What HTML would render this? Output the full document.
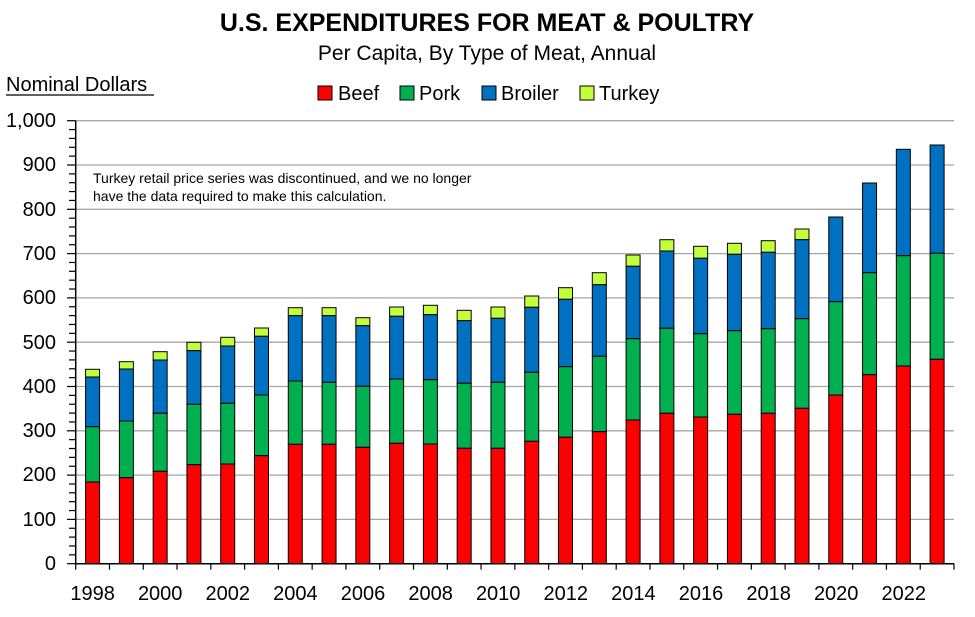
<!DOCTYPE html>
<html><head><meta charset="utf-8"><style>
body{margin:0;background:#fff;}
svg text{font-family:"Liberation Sans",sans-serif;fill:#000;}
</style></head><body>
<svg id="c" width="975" height="612" xmlns="http://www.w3.org/2000/svg">
<text x="487" y="31" text-anchor="middle" font-size="25" font-weight="bold">U.S. EXPENDITURES FOR MEAT &amp; POULTRY</text>
<text x="487" y="60" text-anchor="middle" font-size="21">Per Capita, By Type of Meat, Annual</text>
<text x="6" y="91" font-size="20">Nominal Dollars</text>
<line x1="6" y1="95" x2="154" y2="95" stroke="#000" stroke-width="1.3"/>
<rect x="318" y="86" width="14" height="14" fill="#f00" stroke="#000"/><text x="338" y="100" font-size="20">Beef</text>
<rect x="400" y="86" width="14" height="14" fill="#00b050" stroke="#000"/><text x="419" y="100" font-size="20">Pork</text>
<rect x="482" y="86" width="14" height="14" fill="#0070c0" stroke="#000"/><text x="501" y="100" font-size="20">Broiler</text>
<rect x="580" y="86" width="14" height="14" fill="#c4ff3c" stroke="#000"/><text x="599" y="100" font-size="20">Turkey</text>
<g id="grid"></g>
<text x="93" y="183" font-size="14">Turkey retail price series was discontinued, and we no longer</text>
<text x="93" y="201" font-size="14">have the data required to make this calculation.</text>
<g font-size="20" text-anchor="end">
<text x="56" y="570">0</text><text x="56" y="526">100</text><text x="56" y="481">200</text><text x="56" y="437">300</text><text x="56" y="393">400</text><text x="56" y="349">500</text><text x="56" y="304">600</text><text x="56" y="260">700</text><text x="56" y="216">800</text><text x="56" y="171">900</text><text x="56" y="127">1,000</text>
</g>
<g font-size="20" text-anchor="middle">
<text x="92.6" y="600">1998</text><text x="160.2" y="600">2000</text><text x="227.8" y="600">2002</text><text x="295.4" y="600">2004</text><text x="363" y="600">2006</text><text x="430.6" y="600">2008</text><text x="498.2" y="600">2010</text><text x="565.8" y="600">2012</text><text x="633.4" y="600">2014</text><text x="701" y="600">2016</text><text x="768.6" y="600">2018</text><text x="836.2" y="600">2020</text><text x="903.8" y="600">2022</text>
</g>
<g id="bars"></g>
<g id="axes"></g>
</svg>
<script>
var NS="http://www.w3.org/2000/svg";
function el(p,t,a){var e=document.createElementNS(NS,t);for(var k in a)e.setAttribute(k,a[k]);p.appendChild(e);return e;}
var g=document.getElementById('grid'),b=document.getElementById('bars'),ax=document.getElementById('axes');
var B=563.7,T=120.7,L=75.7,R=954,W=(R-L)/26;
for(var i=1;i<=10;i++){var y=B-(B-T)*i/10;el(g,'line',{x1:L,x2:R,y1:y,y2:y,stroke:'#a6a6a6','stroke-width':1.3});}
var d=[[369.3,377,426.7,482],[361.7,369,421,477.7],[351.7,360,413.3,471.3],[342.3,350.7,404.3,464.7],[337.3,346,403.3,464],[328,336.3,395,455.7],[307.7,315.7,381,444.3],[307.7,315.7,382.3,444.3],[317.7,325.7,386.3,447.3],[307,316.3,379,443.3],[305.3,314.7,379.7,444],[310.3,320.7,383.3,448.3],[307,318.3,382.3,448.3],[296,307.3,372.3,441.3],[287.7,299.3,366.7,437.3],[272.7,284.7,356.3,431.7],[255,266.3,338.7,420],[239.7,251,328.3,413.3],[246.3,258.3,333.7,417],[243.3,254.3,330.7,414.3],[240.7,252.3,328.7,413.3],[229,239.7,318.7,408.3],[null,217,301.7,395],[null,183,272.7,374.7],[null,149.3,255.7,366],[null,145,253.3,359.3]];
var cols=['#c4ff3c','#0070c0','#00b050','#f00'];
d.forEach(function(r,i){var cx=L+W*(i+0.5),x=cx-7;
 var tops=r.slice(),bots=[r[1],r[2],r[3],B];
 for(var k=0;k<4;k++){if(tops[k]==null)continue;el(b,'rect',{x:x,y:tops[k],width:14,height:bots[k]-tops[k],fill:cols[k],stroke:'#000','stroke-width':1});}
});
el(ax,'line',{x1:L,x2:L,y1:T,y2:B,stroke:'#000','stroke-width':1.5});
el(ax,'line',{x1:L,x2:R,y1:B,y2:B,stroke:'#000','stroke-width':1.5});
for(var i=0;i<=50;i++){var y=B-(B-T)*i/50;el(ax,'line',{x1:i%5==0?67:69,x2:L,y1:y,y2:y,stroke:'#000','stroke-width':1.2});}
for(var i=0;i<=26;i++){var x=L+W*i;el(ax,'line',{x1:x,x2:x,y1:B,y2:B+6,stroke:'#000','stroke-width':1.2});}
</script>
</body></html>
